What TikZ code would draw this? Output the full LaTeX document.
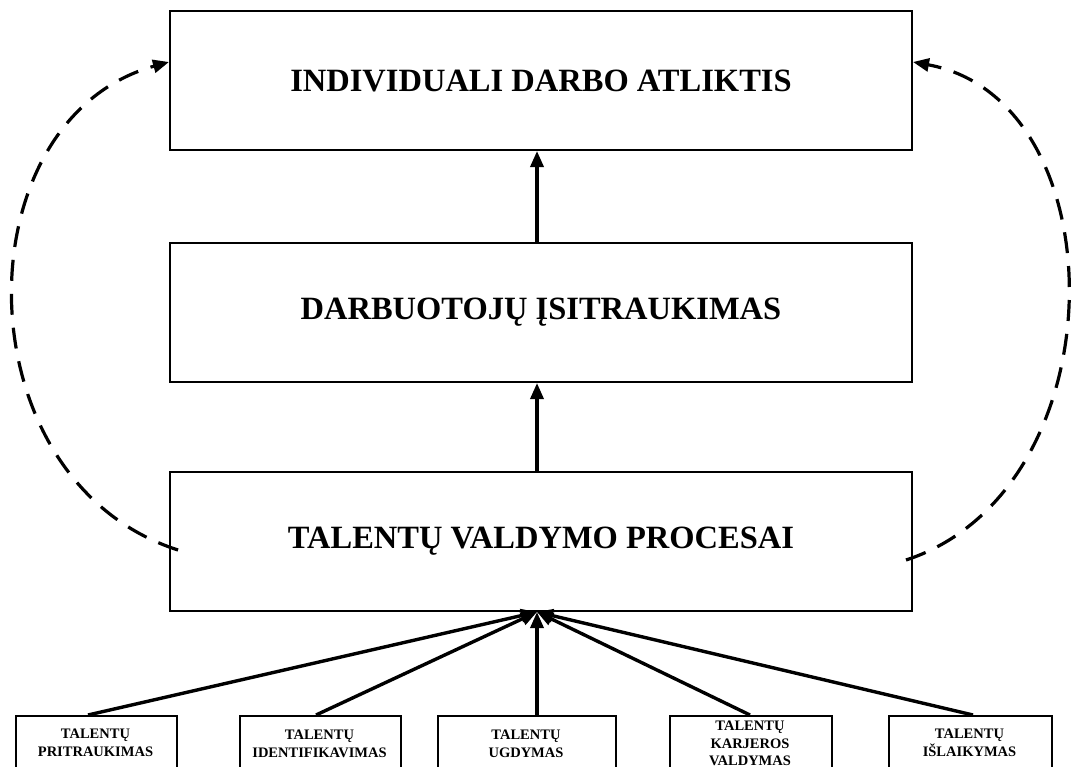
\documentclass[tikz,border=0pt]{standalone}
\usepackage{fontspec}
\setmainfont{Liberation Serif}
\usetikzlibrary{arrows.meta}
\begin{document}
\begin{tikzpicture}[x=1pt,y=-1pt,
  bigbox/.style={draw, line width=2pt, minimum width=742pt, minimum height=139pt, inner sep=0pt,
                 font=\fontsize{32.5}{38}\selectfont\bfseries},
  smallbox/.style={draw, line width=2pt, inner sep=0pt, anchor=north west},
  smalltext/.style={align=center, inner sep=0pt, anchor=north, font=\fontsize{14.5}{17.5}\selectfont\bfseries},
  arr/.style={line width=3.4pt, -{Triangle[length=16pt,width=13pt]}},
  darr/.style={line width=3.2pt, dash pattern=on 21pt off 13pt, -{Triangle[length=16pt,width=13pt]}}]
\useasboundingbox (0,0) rectangle (1071,766);
\clip (0,0) rectangle (1071,766);
\fill[white] (0,0) rectangle (1071,766);
% main boxes
\node[bigbox] (top) at (541,80.5) {INDIVIDUALI DARBO ATLIKTIS};
\node[bigbox] (mid) at (541,312.5) {DARBUOTOJŲ ĮSITRAUKIMAS};
\node[bigbox] (tal) at (541,541.5) {TALENTŲ VALDYMO PROCESAI};
% small boxes
\node[smallbox, minimum width=161pt, minimum height=70pt] (b1) at (15,715) {};
\node[smallbox, minimum width=161pt, minimum height=70pt] (b2) at (239,715) {};
\node[smallbox, minimum width=178pt, minimum height=70pt] (b3) at (437,715) {};
\node[smallbox, minimum width=162pt, minimum height=70pt] (b4) at (669,715) {};
\node[smallbox, minimum width=163pt, minimum height=70pt] (b5) at (888,715) {};
\node[smalltext] (t1) at (95.5,729) {TALENTŲ\\PRITRAUKIMAS};
\node[smalltext] (t2) at (319.5,730) {TALENTŲ\\IDENTIFIKAVIMAS};
\node[smalltext] (t3) at (526,730) {TALENTŲ\\UGDYMAS};
\node[smalltext] (t4) at (750,721) {TALENTŲ\\KARJEROS\\VALDYMAS};
\node[smalltext] (t5) at (969.5,729) {TALENTŲ\\IŠLAIKYMAS};
% attachment points
\coordinate (s1) at (b1.north -| 88,0);
\coordinate (s2) at (b2.north -| 316,0);
\coordinate (s3) at (b3.north -| 537,0);
\coordinate (s4) at (b4.north -| 750,0);
\coordinate (s5) at (b5.north -| 973,0);
\coordinate (hub) at (tal.south -| s3);
\draw[arr] (s1) -- (hub);
\draw[arr] (s2) -- (hub);
\draw[arr] (s3) -- (hub);
\draw[arr] (s4) -- (hub);
\draw[arr] (s5) -- (hub);
\draw[arr] (tal.north -| s3) -- (mid.south -| s3);
\draw[arr] (mid.north -| s3) -- (top.south -| s3);
% dashed feedback arcs
\coordinate (ls) at ([xshift=9pt,yshift=-8.5pt]tal.west);
\coordinate (rs) at ([xshift=-7pt,yshift=-18.5pt]tal.east);
\draw[darr] (ls) .. controls (-40,480) and (-40,120) .. ([yshift=18.5pt]top.west);
\draw[darr] (rs) .. controls (1120,490) and (1120,100) .. ([yshift=18.5pt]top.east);
\end{tikzpicture}
\end{document}
